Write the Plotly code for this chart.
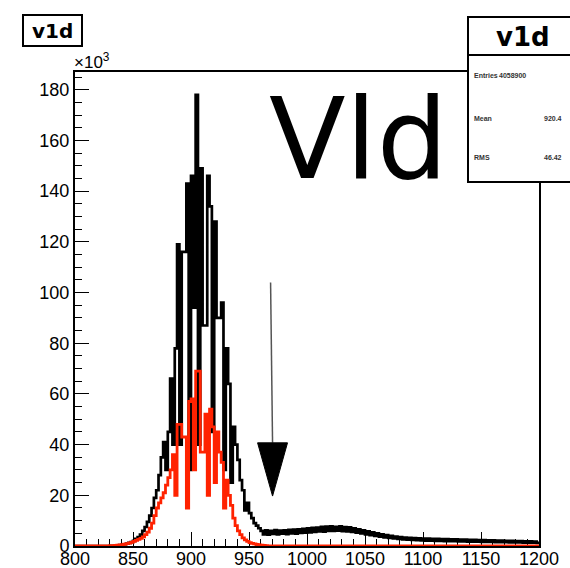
import plotly.graph_objects as go

# ---- histogram contents (counts in units of 10^3), 2-unit bins from 800 to 1200 ----
x_min = 800
x_max = 1200
bin_width = 2

black_counts = [
    # 800 - 848
    0, 0, 0, 0, 0, 0, 0, 0, 0, 0,
    0, 0, 0, 0, 0, 0.1, 0.1, 0.2, 0.3, 0.4,
    0.5, 0.7, 0.9, 1.2, 1.5,
    # 850 - 868
    2.0, 2.8, 3.5, 4.5, 6, 7.5, 9.5, 12, 15, 19,
    # 870 - 948
    22, 28, 35, 41, 30, 45, 66, 40, 78, 119,
    40, 116, 116, 143, 30, 146, 94, 178, 40, 149,
    87, 87, 146, 134, 45, 128, 90, 90, 96, 30,
    78, 64, 25, 47, 40, 34, 26, 22, 14, 17,
    # 950 - 958
    13, 11, 9, 8, 7,
    # 960 - 1198
    6.0, 4.6, 6.2, 4.5, 6.0, 4.8, 6.3, 4.6, 6.1, 4.9,
    6.2, 4.7, 6.4, 5.0, 6.5, 4.9, 6.6, 5.2, 6.8, 5.3,
    7.0, 5.4, 7.2, 5.6, 7.3, 5.8, 7.6, 5.7, 7.7, 6.0,
    7.8, 6.0, 7.6, 6.1, 7.8, 5.9, 7.5, 5.8, 7.4, 5.6,
    7.0, 5.3, 6.6, 5.0, 6.2, 4.6, 5.8, 4.3, 5.4, 4.0,
    5.0, 3.7, 4.6, 3.4, 4.3, 3.2, 4.0, 3.0, 3.7, 2.8,
    3.5, 2.6, 3.3, 2.5, 3.2, 2.4, 3.1, 2.3, 3.0, 2.2,
    2.9, 2.1, 2.9, 2.1, 2.8, 2.0, 2.8, 2.0, 2.7, 1.9,
    2.7, 1.9, 2.6, 1.9, 2.6, 1.8, 2.5, 1.8, 2.5, 1.7,
    2.4, 1.7, 2.4, 1.7, 2.3, 1.6, 2.3, 1.6, 2.2, 1.6,
    2.2, 1.5, 2.1, 1.5, 2.1, 1.5, 2.0, 1.4, 2.0, 1.4,
    1.9, 1.4, 1.9, 1.3, 1.8, 1.3, 1.8, 1.3, 1.7, 1.2,
]

red_counts = [
    # 800 - 828
    0, 0, 0, 0, 0, 0, 0, 0, 0, 0,
    0, 0, 0, 0, 0,
    # 830 - 964
    0.1, 0.15, 0.2, 0.3, 0.4, 0.5, 0.7, 0.9, 1.1, 1.4,
    1.8, 2.2, 2.6, 3.0, 3.6, 4.5, 5.5, 7, 9, 12,
    15, 17, 19, 21, 24, 27, 30,
    36, 20, 48, 48, 43, 43, 15, 57, 58, 30,
    69, 69, 37, 37, 52, 20, 54, 47, 25, 45,
    37, 33, 15, 26, 20, 16, 11, 8, 6, 4.5,
    3.2, 2.4, 1.8,
    1.3, 1.0, 0.8, 0.6, 0.4, 0.3, 0.2, 0.1,
    # 966 - 1198
    0, 0, 0, 0, 0, 0, 0, 0, 0, 0,
    0, 0, 0, 0, 0, 0, 0, 0, 0, 0,
    0, 0, 0, 0, 0, 0, 0, 0, 0, 0,
    0, 0, 0, 0, 0, 0, 0, 0, 0, 0,
    0, 0, 0, 0, 0, 0, 0, 0, 0, 0,
    0, 0, 0, 0, 0, 0, 0, 0, 0, 0,
    0, 0, 0, 0, 0, 0, 0, 0, 0, 0,
    0, 0, 0, 0, 0, 0, 0, 0, 0, 0,
    0, 0, 0, 0, 0, 0, 0, 0, 0, 0,
    0, 0, 0, 0, 0, 0, 0, 0, 0, 0,
    0, 0, 0, 0, 0, 0, 0, 0, 0, 0,
    0, 0, 0, 0, 0, 0, 0,
]

n_bins = (x_max - x_min) // bin_width
assert len(black_counts) == n_bins, len(black_counts)
assert len(red_counts) == n_bins, len(red_counts)

hist_name = "v1d"
stats = [("Entries", "4058900"), ("Mean", "920.4"), ("RMS", "46.42")]
y_max = 187
x_ticks = list(range(800, 1201, 50))
y_ticks = list(range(0, 181, 20))

# arrow marker (data coordinates)
arrow_top = (968.6, 104)
arrow_base_y = 40.7
arrow_tip = (970.3, 19.7)
arrow_half = 12.9

edges = [x_min + bin_width * i for i in range(n_bins + 1)]


def step(counts):
    return edges, list(counts) + [counts[-1]]


fig = go.Figure()
bx, by = step(black_counts)
fig.add_trace(go.Scatter(x=bx, y=by, mode="lines", line_shape="hv",
                         line=dict(color="black", width=2.7), hoverinfo="skip"))
rx, ry = step(red_counts)
fig.add_trace(go.Scatter(x=rx, y=ry, mode="lines", line_shape="hv",
                         line=dict(color="#ff2200", width=2.8), hoverinfo="skip"))

# canvas geometry in pixels
W, H = 570, 568
L, R, T, B = 75, 539, 72, 546


def px(xp):
    return (xp - L) / (R - L)


def py(yp):
    return (B - yp) / (B - T)


axis_font = dict(family="Liberation Sans, Arial, sans-serif", size=18, color="black")

fig.update_layout(
    width=W, height=H,
    margin=dict(l=L, r=W - R, t=T, b=H - B, autoexpand=False),
    paper_bgcolor="white", plot_bgcolor="white",
    showlegend=False,
    xaxis=dict(range=[x_min, x_max], tickvals=x_ticks, ticks="inside", ticklen=14,
               tickwidth=1.3, tickcolor="black", showline=True, linecolor="black",
               linewidth=2, mirror=True, showgrid=False, zeroline=False,
               tickfont=axis_font, layer="below traces", automargin=False,
               ticklabelstandoff=-5,
               minor=dict(dtick=10, ticks="inside", ticklen=7, tickwidth=1.2,
                          tickcolor="black", showgrid=False)),
    yaxis=dict(range=[0, y_max], tickvals=y_ticks, ticks="inside", ticklen=14,
               tickwidth=1.3, tickcolor="black", showline=True, linecolor="black",
               linewidth=2, mirror=True, showgrid=False, zeroline=False,
               tickfont=axis_font, layer="below traces", automargin=False,
               minor=dict(dtick=5, ticks="inside", ticklen=7, tickwidth=1.2,
                          tickcolor="black", showgrid=False)),
)

shapes = []
annotations = []

# title box at top left
shapes.append(dict(type="rect", xref="paper", yref="paper",
                   x0=px(23), x1=px(82), y0=py(46), y1=py(15),
                   line=dict(color="black", width=2), fillcolor="white", layer="above"))
annotations.append(dict(xref="paper", yref="paper", x=px(52.5), y=py(31),
                        text="<b>" + hist_name + "</b>", showarrow=False,
                        font=dict(family="DejaVu Sans, sans-serif", size=20, color="black"),
                        xanchor="center", yanchor="middle"))

# axis exponent
annotations.append(dict(xref="paper", yref="paper", x=px(72), y=py(61),
                        text="\u00d710<sup>3</sup>", showarrow=False,
                        font=dict(family="Liberation Sans, Arial, sans-serif", size=17, color="black"),
                        xanchor="left", yanchor="middle"))

# statistics box
shapes.append(dict(type="rect", xref="paper", yref="paper",
                   x0=px(468), x1=px(600), y0=py(182), y1=py(17),
                   line=dict(color="black", width=2), fillcolor="white", layer="above"))
shapes.append(dict(type="line", xref="paper", yref="paper",
                   x0=px(468), x1=px(600), y0=py(55), y1=py(55),
                   line=dict(color="black", width=2), layer="above"))
annotations.append(dict(xref="paper", yref="paper", x=px(523), y=py(37),
                        text="<b>" + hist_name + "</b>", showarrow=False,
                        font=dict(family="DejaVu Sans, sans-serif", size=26, color="black"),
                        xanchor="center", yanchor="middle"))
stat_rows_y = [75, 118, 157]
stat_value_x = [497, 542, 542]
for (label, value), yy, vx in zip(stats, stat_rows_y, stat_value_x):
    annotations.append(dict(xref="paper", yref="paper", x=px(472), y=py(yy),
                            text="<b>" + label + "</b>", showarrow=False,
                            font=dict(family="Liberation Sans, Arial, sans-serif", size=7, color="#333"),
                            xanchor="left", yanchor="middle"))
    annotations.append(dict(xref="paper", yref="paper", x=px(vx), y=py(yy),
                            text="<b>" + value + "</b>", showarrow=False,
                            font=dict(family="Liberation Sans, Arial, sans-serif", size=7, color="#333"),
                            xanchor="left", yanchor="middle"))

# large label inside the frame
annotations.append(dict(xref="paper", yref="paper", x=px(358), y=py(139),
                        text="Vld", showarrow=False,
                        font=dict(family="DejaVu Sans, sans-serif", size=112, color="black"),
                        xanchor="center", yanchor="middle"))

# downward arrow marking the cut position
shapes.append(dict(type="line", xref="x", yref="y",
                   x0=arrow_top[0], y0=arrow_top[1], x1=arrow_tip[0], y1=arrow_base_y,
                   line=dict(color="#555", width=1.5), layer="above"))
shapes.append(dict(type="path", xref="x", yref="y",
                   path=(f"M {arrow_tip[0] - arrow_half},{arrow_base_y} "
                         f"L {arrow_tip[0] + arrow_half},{arrow_base_y} "
                         f"L {arrow_tip[0]},{arrow_tip[1]} Z"),
                   fillcolor="black", line=dict(color="black", width=1), layer="above"))

fig.update_layout(shapes=shapes, annotations=annotations)
fig.write_html("out.html")
